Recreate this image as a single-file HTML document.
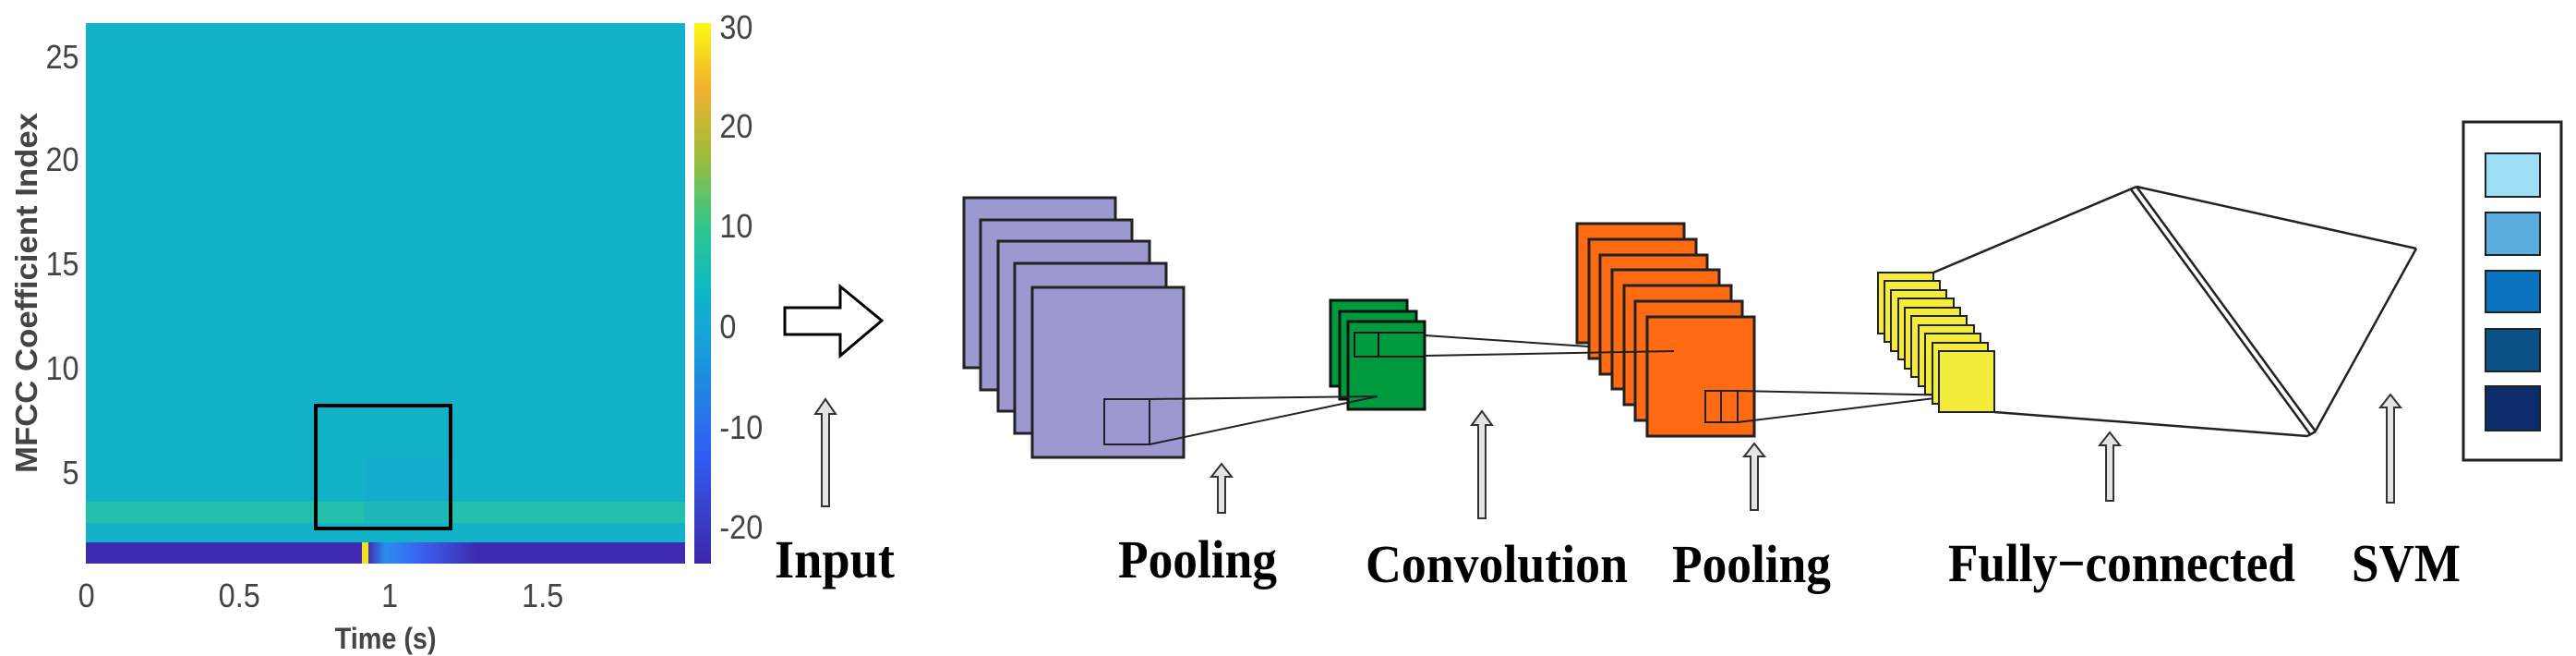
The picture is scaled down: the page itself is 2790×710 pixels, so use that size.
<!DOCTYPE html>
<html><head><meta charset="utf-8"><style>
html,body{margin:0;padding:0;background:#fff;}
svg{display:block;}
.t{font-family:"Liberation Sans",sans-serif;fill:#444;font-size:36px;}
.lb{font-family:"Liberation Serif",serif;font-weight:bold;fill:#000;font-size:58px;}
</style></head><body>
<svg width="2790" height="710" viewBox="0 0 2790 710" xmlns="http://www.w3.org/2000/svg">
<defs>
<linearGradient id="cb" x1="0" y1="1" x2="0" y2="0">
<stop offset="0" stop-color="#3e26a8"/>
<stop offset="0.2" stop-color="#2f5ef0"/>
<stop offset="0.38" stop-color="#1a98dd"/>
<stop offset="0.5" stop-color="#0fb5c9"/>
<stop offset="0.62" stop-color="#2fc68e"/>
<stop offset="0.75" stop-color="#9bbd3a"/>
<stop offset="0.88" stop-color="#f3b02f"/>
<stop offset="1" stop-color="#f9fa14"/>
</linearGradient>
<linearGradient id="bot" x1="0" y1="0" x2="1" y2="0">
<stop offset="0" stop-color="#3f2bb2"/>
<stop offset="0.47" stop-color="#3f2bb2"/>
<stop offset="0.5" stop-color="#2a8ef0"/>
<stop offset="0.56" stop-color="#3a60f0"/>
<stop offset="0.65" stop-color="#3f2bb2"/>
<stop offset="1" stop-color="#3f2bb2"/>
</linearGradient>
</defs>
<rect x="93" y="25" width="649" height="585" fill="#12b2c9"/>
<rect x="93" y="543" width="649" height="23" fill="#22c0aa"/>
<rect x="395" y="495" width="90" height="70" fill="#1aa4d8" opacity="0.35"/>
<rect x="93" y="587" width="649" height="23" fill="url(#bot)"/>
<rect x="392" y="587" width="7" height="23" fill="#f2e21a"/>
<rect x="342" y="439" width="146" height="133" fill="none" stroke="#000" stroke-width="4"/>
<rect x="752" y="25" width="18" height="585" fill="url(#cb)"/>
<g class="t">
<g transform="scale(0.9,1)">
<text x="866" y="42">30</text><text x="866" y="149">20</text><text x="866" y="257">10</text>
<text x="866" y="366">0</text><text x="866" y="475">-10</text><text x="866" y="583">-20</text>
<g text-anchor="end"><text x="95" y="74">25</text><text x="95" y="185">20</text><text x="95" y="298">15</text><text x="95" y="411">10</text><text x="95" y="524">5</text></g>
<g text-anchor="middle"><text x="104" y="657">0</text><text x="288" y="657">0.5</text><text x="469" y="657">1</text><text x="653" y="657">1.5</text>
<text x="464" y="702" font-weight="bold" font-size="32">Time (s)</text></g>
</g>
<text transform="translate(40,317) rotate(-90)" text-anchor="middle" font-weight="bold" font-size="33" textLength="390" lengthAdjust="spacingAndGlyphs">MFCC Coefficient Index</text>
</g>
<polygon points="850,333 910,333 910,310 955,347 910,385 910,362 850,362" fill="#fff" stroke="#000" stroke-width="3"/>
<g fill="#e4e4e4" stroke="#333" stroke-width="2">
<polygon points="890,548 890,448 883,448 894,432 905,448 898,448 898,548"/>
<polygon points="1319,555 1319,516 1312,516 1323,502 1334,516 1327,516 1327,555"/>
<polygon points="1601,561 1601,460 1594,460 1605,445 1616,460 1609,460 1609,561"/>
<polygon points="1896,552 1896,494 1889,494 1900,480 1911,494 1904,494 1904,552"/>
<polygon points="2281,542 2281,482 2274,482 2285,468 2296,482 2289,482 2289,542"/>
<polygon points="2585,544 2585,441 2578,441 2589,427 2600,441 2593,441 2593,544"/>
</g>
<g fill="#9c99d0" stroke="#222" stroke-width="3">
<rect x="1044" y="214" width="164" height="184"/>
<rect x="1062" y="238" width="164" height="184"/>
<rect x="1081" y="261" width="164" height="184"/>
<rect x="1099" y="285" width="164" height="184"/>
<rect x="1118" y="311" width="164" height="184"/>
</g>
<rect x="1196" y="432" width="49" height="49" fill="none" stroke="#222" stroke-width="2"/>
<g fill="#009a3e" stroke="#111" stroke-width="3">
<rect x="1441" y="325" width="83" height="93"/>
<rect x="1451" y="337" width="83" height="95"/>
<rect x="1460" y="348" width="83" height="95"/>
</g>
<rect x="1467" y="360" width="76" height="26" fill="none" stroke="#111" stroke-width="2"/>
<line x1="1493" y1="360" x2="1493" y2="386" stroke="#111" stroke-width="2"/>
<g stroke="#222" stroke-width="2" fill="none">
<line x1="1245" y1="432" x2="1492" y2="429"/>
<line x1="1245" y1="481" x2="1492" y2="429"/>
</g>
<g fill="#ff6a13" stroke="#222" stroke-width="3">
<rect x="1708" y="242" width="116" height="129"/>
<rect x="1721" y="259" width="116" height="129"/>
<rect x="1733" y="276" width="116" height="129"/>
<rect x="1746" y="292" width="116" height="129"/>
<rect x="1759" y="309" width="116" height="129"/>
<rect x="1771" y="326" width="116" height="129"/>
<rect x="1784" y="343" width="116" height="129"/>
</g>
<rect x="1847" y="423" width="35" height="34" fill="none" stroke="#222" stroke-width="2"/>
<line x1="1864" y1="423" x2="1864" y2="457" stroke="#222" stroke-width="2"/>
<g stroke="#222" stroke-width="2" fill="none">
<line x1="1543" y1="363" x2="1720" y2="375"/>
<line x1="1543" y1="385" x2="1813" y2="380"/>
<line x1="1882" y1="423" x2="2120" y2="428"/>
<line x1="1882" y1="457" x2="2120" y2="428"/>
</g>
<g fill="#f3ec3a" stroke="#222" stroke-width="2">
<rect x="2034" y="295" width="60" height="66"/>
<rect x="2041" y="304" width="60" height="66"/>
<rect x="2048" y="314" width="60" height="66"/>
<rect x="2056" y="323" width="60" height="66"/>
<rect x="2063" y="333" width="60" height="66"/>
<rect x="2070" y="342" width="60" height="66"/>
<rect x="2078" y="352" width="60" height="66"/>
<rect x="2085" y="361" width="60" height="66"/>
<rect x="2093" y="371" width="60" height="66"/>
<rect x="2100" y="380" width="60" height="66"/>
</g>
<g stroke="#222" stroke-width="2.5" fill="none">
<line x1="2094" y1="295" x2="2314" y2="202"/>
<line x1="2160" y1="446" x2="2499" y2="472"/>
<line x1="2308" y1="205" x2="2502" y2="470"/>
<line x1="2314" y1="202" x2="2508" y2="467"/>
<line x1="2314" y1="202" x2="2617" y2="269"/>
<line x1="2617" y1="269" x2="2507" y2="468"/>
<line x1="2499" y1="472" x2="2508" y2="467"/>
</g>
<rect x="2668" y="132" width="106" height="366" fill="#fff" stroke="#222" stroke-width="3"/>
<g stroke="#222" stroke-width="2">
<rect x="2692" y="166" width="59" height="47" fill="#9ddff5"/>
<rect x="2692" y="230" width="59" height="46" fill="#5aaddf"/>
<rect x="2692" y="293" width="59" height="45" fill="#0a73bf"/>
<rect x="2692" y="356" width="59" height="46" fill="#0a5187"/>
<rect x="2692" y="418" width="59" height="48" fill="#0d2c6b"/>
</g>
<g class="lb">
<text x="839" y="625" textLength="130" lengthAdjust="spacingAndGlyphs">Input</text>
<text x="1211" y="625" textLength="172" lengthAdjust="spacingAndGlyphs">Pooling</text>
<text x="1479" y="630" textLength="284" lengthAdjust="spacingAndGlyphs">Convolution</text>
<text x="1811" y="630" textLength="172" lengthAdjust="spacingAndGlyphs">Pooling</text>
<text x="2110" y="629" textLength="376" lengthAdjust="spacingAndGlyphs">Fully−connected</text>
<text x="2547" y="629" textLength="118" lengthAdjust="spacingAndGlyphs">SVM</text>
</g>
</svg>
</body></html>
